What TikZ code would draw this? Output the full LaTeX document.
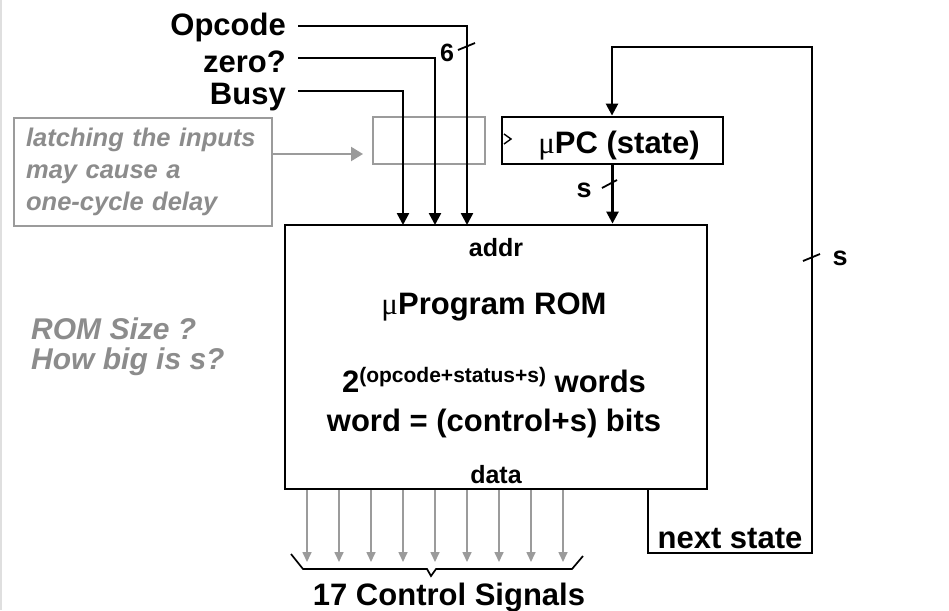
\documentclass[tikz,border=0pt]{standalone}
\usepackage{fontspec}
\setmainfont{Liberation Sans}
\newfontfamily\greekf{Liberation Serif}
\usetikzlibrary{arrows.meta,calc}
\definecolor{notegray}{RGB}{140,140,140}
\definecolor{linegray}{RGB}{155,155,155}
\newcommand\setfs[1]{\fontsize{#1}{#1}\selectfont}
\begin{document}
\begin{tikzpicture}[x=1pt,y=-1pt,
  wire/.style={line width=2.5pt,line join=miter},
  wirearrow/.style={wire,-{Triangle[width=12pt,length=12pt]}},
  blockbox/.style={draw,line width=2.8pt,inner sep=0pt,fill=white},
  latchbox/.style={draw=linegray,line width=2.4pt,inner sep=0pt},
  notebox/.style={draw=linegray,line width=2.2pt,inner xsep=12pt,inner ysep=0pt,
    align=left,text=notegray,font=\setfs{25.5}\bfseries\itshape},
  bigtxt/.style={font=\setfs{31}\bfseries,inner sep=0pt},
  smalltxt/.style={font=\setfs{25}\bfseries,inner sep=0pt},
  tick/.style={line width=1.8pt},
  ctl/.style={draw=linegray,line width=1.6pt,-{Triangle[width=9pt,length=10pt]}},
  notearrow/.style={draw=linegray,line width=2.2pt,-{Triangle[width=14pt,length=12pt]}}
]
\useasboundingbox (0,0) rectangle (949,610);
\fill[white] (0,0) rectangle (949,610);
% faint left border of the page
\draw[gray!25,line width=1.5pt] (0.75,0) -- (0.75,610);

% ---- blocks ----
\node[blockbox,minimum width=422pt,minimum height=264pt] (rom) at (496,357) {};
\node[blockbox,minimum width=221pt,minimum height=47pt] (upc) at (612.5,140.5) {};
\node[latchbox,minimum width=112pt,minimum height=47pt] (latch) at (429,140.5) {};
\node[notebox,anchor=north west,minimum width=258pt,minimum height=108pt,text width=234pt,
  execute at begin node={\baselineskip=32pt}] (note) at (13,117)
  {latching the inputs\\may cause a\\one-cycle delay};

% clock mark of the state register
\draw[line width=1.4pt] (504,134) -- (511,139) -- (504,144);

% ---- texts ----
\node[bigtxt,anchor=base east] (opcode) at (286,36) {Opcode};
\node[bigtxt,anchor=base east] (zero) at (286,72) {zero?};
\node[bigtxt,anchor=base east] (busy) at (286,104) {Busy};
\node[bigtxt,anchor=base] (upctxt) at (619,153) {{\greekf\mdseries μ}PC (state)};
\node[smalltxt,anchor=base] (addr) at (496,256) {addr};
\node[bigtxt,anchor=base] (romname) at (494,314) {{\greekf\mdseries μ}Program ROM};
\node[bigtxt,anchor=base] (romwords) at (494,392)
  {2\raisebox{10pt}{\setfs{21}(opcode+status+s)} words};
\node[bigtxt,anchor=base] (romword) at (494,431) {word = (control+s) bits};
\node[smalltxt,anchor=base] (data) at (496,483) {data};
\node[bigtxt,anchor=base] (nstate) at (730,548) {next state};
\node[bigtxt,anchor=base] (ctltxt) at (449,605) {17 Control Signals};
\node[font=\setfs{30}\bfseries\itshape,text=notegray,align=left,inner sep=0pt,
  anchor=north west,execute at begin node={\baselineskip=30pt}] (romq) at (31,318)
  {ROM Size ?\\How big is s?};
\node[font=\setfs{25}\bfseries,inner sep=0pt,anchor=base] (six) at (447,62) {6};
\node[font=\setfs{27}\bfseries,inner sep=0pt,anchor=base] (sA) at (584,197) {s};
\node[font=\setfs{27}\bfseries,inner sep=0pt,anchor=base] (sB) at (840,265) {s};

% ---- input wires ----
\coordinate (inOp) at (298,26);
\coordinate (inZe) at (298,58);
\coordinate (inBu) at (298,91);
\coordinate (aOp) at (467,225);
\coordinate (aZe) at (435,225);
\coordinate (aBu) at (403,225);
\draw[wirearrow] (inOp) -| (aOp);
\draw[wirearrow] (inZe) -| (aZe);
\draw[wirearrow] (inBu) -| (aBu);
\draw[tick] (458,50) -- (475,43);

% ---- note arrow ----
\coordinate (notefrom) at (271,154);
\coordinate (noteto) at (363,154);
\draw[notearrow] (notefrom) -- (noteto);

% ---- state register to ROM ----
\draw[wirearrow] (upc.south) -- (upc.south |- rom.north);
\draw[tick] (602,188) -- (617,180);

% ---- next-state feedback ----
\coordinate (ns) at (648,489);
\coordinate (fbBR) at (812,553);
\coordinate (fbTL) at (612,47);
\draw[wirearrow] (ns) |- (fbBR) |- (fbTL) -- (fbTL |- upc.north);
\draw[tick] (803,261) -- (820,254);

% ---- control outputs ----
\foreach \i in {0,...,8}{
  \coordinate (c\i) at (307+32*\i,562);
  \draw[ctl] (rom.south -| c\i) -- (c\i);
}
\draw[line width=1.7pt,line join=miter] (291,554) -- (303,569) -- (427,569) -- (431,576)
  -- (436,569) -- (572,569) -- (583,556);
\end{tikzpicture}
\end{document}
